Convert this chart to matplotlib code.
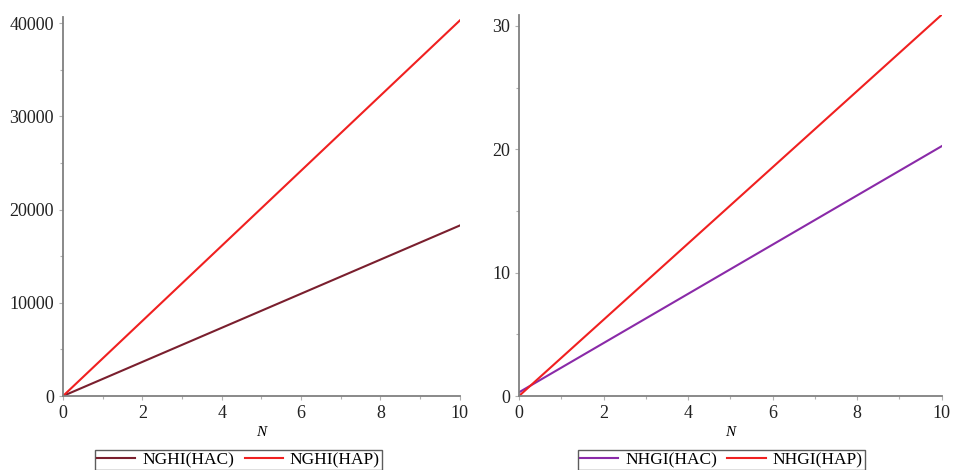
import matplotlib
matplotlib.use("Agg")
import matplotlib.pyplot as plt
from matplotlib.ticker import MultipleLocator

plt.rcParams["font.family"] = ["Liberation Serif", "DejaVu Serif"]

# data
n = [0, 2, 4, 6, 8, 10]
nghi_hac = [0, 3660, 7320, 10980, 14640, 18300]
nghi_hap = [0, 8060, 16120, 24180, 32240, 40300]
nhgi_hac = [0.3, 4.29, 8.28, 12.27, 16.26, 20.25]
nhgi_hap = [0, 6.18, 12.36, 18.54, 24.72, 30.9]

fig = plt.figure(figsize=(9.54, 4.7), dpi=100)
ax1 = fig.add_axes([0.066, 0.1574, 0.416, 0.806])
ax2 = fig.add_axes([0.544, 0.1574, 0.443, 0.811])


def style(ax):
    for s in ["top", "right"]:
        ax.spines[s].set_visible(False)
    for s in ["left", "bottom"]:
        ax.spines[s].set_color("#808080")
        ax.spines[s].set_linewidth(1.3)
    ax.tick_params(which="both", colors="#b0b0b0", labelcolor="#222222",
                   labelsize=13, length=3, width=0.8)
    ax.tick_params(which="minor", length=2)
    ax.xaxis.set_major_locator(MultipleLocator(2))
    ax.xaxis.set_minor_locator(MultipleLocator(1))
    ax.set_xlim(0, 10)
    ax.set_xlabel("N", fontstyle="italic", fontsize=11, labelpad=3)


ax1.plot(n, nghi_hac, color="#7a1f2e", lw=1.5, label="NGHI(HAC)")
ax1.plot(n, nghi_hap, color="#f02020", lw=1.5, label="NGHI(HAP)")
style(ax1)
ax1.set_ylim(0, 40650)
ax1.yaxis.set_major_locator(MultipleLocator(10000))
ax1.yaxis.set_minor_locator(MultipleLocator(5000))

ax2.plot(n, nhgi_hac, color="#8a2aa8", lw=1.5, label="NHGI(HAC)")
ax2.plot(n, nhgi_hap, color="#f02020", lw=1.5, label="NHGI(HAP)")
style(ax2)
ax2.set_ylim(0, 30.9)
ax2.yaxis.set_major_locator(MultipleLocator(10))
ax2.yaxis.set_minor_locator(MultipleLocator(5))

for ax, cx in ((ax1, 0.25), (ax2, 0.756)):
    leg = ax.legend(loc="upper center", bbox_to_anchor=(cx, 0.0426),
                    bbox_transform=fig.transFigure, ncol=2,
                    frameon=True, fancybox=False, fontsize=12.5, handlelength=2.2,
                    columnspacing=0.6, handletextpad=0.4, borderpad=0.12,
                    borderaxespad=0)
    leg.get_frame().set_edgecolor("#333333")
    leg.get_frame().set_linewidth(1.0)

fig.savefig("out.png", dpi=100)
